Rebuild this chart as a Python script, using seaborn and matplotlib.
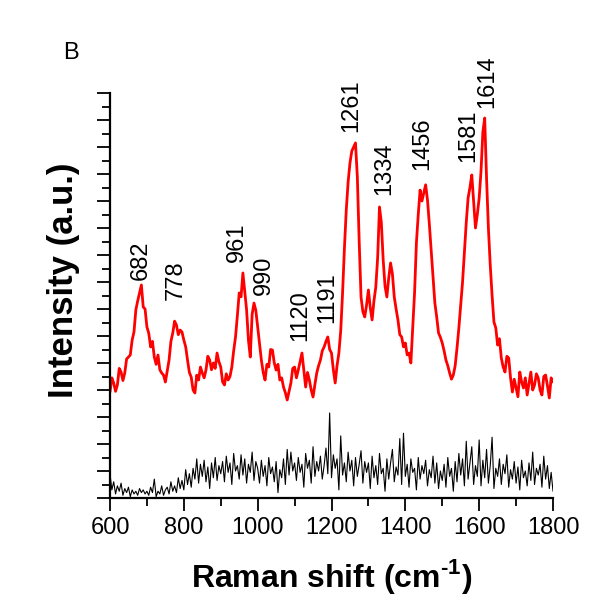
import matplotlib
matplotlib.use("Agg")
import matplotlib.pyplot as plt
import seaborn as sns
import pandas as pd
from matplotlib.ticker import MultipleLocator, NullFormatter

sns.set_style("ticks")
plt.rcParams["font.family"] = ["Liberation Sans", "DejaVu Sans"]
plt.rcParams["mathtext.fontset"] = "custom"
plt.rcParams["mathtext.rm"] = "Liberation Sans:bold"
plt.rcParams["mathtext.bf"] = "Liberation Sans:bold"
for key in ["text.color", "axes.labelcolor", "xtick.color", "ytick.color", "axes.edgecolor"]:
    plt.rcParams[key] = "black"

# ---- data ----
red_shift = list(range(600, 1801, 5))
red_intensity = [
    7.85, 8.9, 8.52, 7.9, 8.37, 9.6, 9.33, 8.7, 9.26, 10.3, 10.44, 10.6, 11.70, 12.3, 13.93, 14.6, 15.19, 15.78, 14.15, 14.0,
    12.67, 12.2, 11.19, 11.6, 10.44, 9.9, 10.59, 9.5, 9.26, 9.1, 8.59, 9.4, 10.22, 11.6, 12.22, 13.1, 12.81, 12.1, 12.44, 12.3,
    11.70, 11.2, 10.22, 9.3, 8.96, 8.0, 7.78, 9.1, 8.74, 9.7, 9.26, 8.9, 9.48, 10.5, 10.22, 9.5, 10.0, 9.6, 10.74, 10.1,
    9.70, 8.6, 8.37, 9.2, 8.74, 9.0, 9.70, 10.9, 11.93, 13.5, 15.19, 14.9, 16.67, 15.3, 13.93, 11.7, 10.44, 13.6, 14.44, 13.9,
    12.67, 11.4, 10.22, 9.3, 8.74, 9.9, 9.70, 11.0, 10.96, 10.0, 9.48, 9.9, 8.74, 8.9, 8.22, 7.8, 7.26, 7.9, 8.52, 9.6,
    9.70, 8.9, 9.48, 10.1, 10.74, 9.5, 8.22, 9.3, 8.74, 8.0, 7.48, 8.4, 9.26, 9.8, 10.22, 10.9, 11.19, 11.6, 11.93, 11.0,
    10.74, 9.5, 8.52, 9.8, 10.74, 12.4, 15.19, 18.5, 21.33, 23.4, 24.81, 25.7, 26.0, 26.3, 23.78, 19.0, 14.89, 13.8, 13.41, 14.3,
    15.41, 14.1, 13.19, 14.6, 15.63, 17.8, 21.56, 20.4, 17.63, 15.7, 14.89, 16.3, 17.41, 16.6, 14.89, 14.0, 13.19, 12.1, 11.93, 11.2,
    11.48, 10.6, 10.74, 10.0, 12.67, 15.2, 18.89, 21.0, 22.81, 22.0, 22.59, 23.2, 22.07, 20.3, 18.37, 16.5, 14.44, 13.4, 12.22, 11.9,
    11.48, 10.9, 10.22, 9.8, 9.26, 8.8, 9.11, 9.8, 11.11, 12.6, 14.30, 16.0, 18.22, 20.4, 22.22, 23.0, 23.93, 22.0, 20.0, 21.0,
    22.22, 24.2, 27.11, 28.15, 23.70, 20.0, 17.26, 15.0, 13.04, 12.6, 11.33, 11.8, 10.37, 9.7, 9.33, 10.5, 10.37, 8.9, 7.85, 8.8,
    8.15, 7.5, 9.33, 8.6, 8.15, 8.9, 7.63, 8.5, 9.33, 8.0, 8.37, 9.2, 8.89, 8.0, 7.63, 9.0, 9.11, 8.3, 7.41, 8.9,
    8.59]

black_shift = list(range(600, 1801, 5))
black_intensity = [
    1.8, 0.6, 1.2, 0.3, 0.9, 0.5, 1.1, 0.2, 0.7, 0.4, 0.8, 0.1, 0.6, 0.3, 0.5, 0.2, 0.7, 0.4, 0.6, 0.3,
    0.5, 0.2, 0.8, 0.4, 1.4, 0.1, 0.5, 0.3, 0.9, 0.2, 0.6, 0.8, 0.3, 1.2, 0.5, 0.9, 0.4, 1.5, 0.7, 1.3,
    0.6, 2.1, 1.0, 1.8, 0.8, 2.2, 1.4, 2.9, 1.1, 2.5, 1.6, 2.8, 1.2, 2.3, 0.7, 2.6, 1.5, 3.0, 1.3, 2.4,
    1.8, 2.7, 1.2, 3.1, 1.9, 2.6, 1.0, 3.3, 2.0, 2.4, 1.4, 3.2, 1.7, 2.9, 1.1, 2.5, 1.9, 3.4, 1.3, 2.7,
    2.2, 1.1, 2.8, 1.6, 2.4, 0.9, 3.0, 1.8, 2.3, 1.2, 2.7, 0.4, 2.1, 1.5, 2.9, 1.0, 3.6, 1.7, 3.4, 2.0,
    2.6, 1.3, 3.0, 1.9, 2.5, 0.8, 3.3, 2.2, 2.8, 1.1, 3.8, 1.6, 2.7, 2.0, 3.1, 1.4, 2.4, 3.7, 1.8, 6.3,
    1.5, 3.2, 2.2, 2.9, 0.6, 4.6, 1.7, 2.6, 1.2, 3.4, 2.0, 2.8, 0.9, 3.0, 1.6, 2.5, 3.5, 1.1, 2.7, 1.9,
    2.6, 0.7, 3.1, 1.5, 2.4, 1.0, 3.3, 1.8, 2.2, 0.5, 2.9, 1.4, 2.6, 3.6, 1.2, 2.3, 1.7, 4.4, 1.0, 4.8,
    1.6, 2.5, 0.8, 2.9, 1.9, 2.2, 0.6, 3.0, 1.4, 2.4, 1.8, 2.8, 0.9, 2.1, 1.5, 3.1, 1.1, 2.6, 0.7, 2.0,
    1.3, 2.5, 0.8, 3.0, 1.6, 2.2, 0.5, 2.7, 1.2, 3.3, 1.7, 2.9, 0.9, 4.2, 1.4, 2.6, 3.8, 1.0, 2.4, 1.6,
    4.3, 0.9, 2.8, 1.5, 3.6, 1.1, 2.4, 4.5, 0.7, 2.2, 1.6, 2.9, 1.0, 2.5, 1.8, 3.2, 0.8, 2.1, 1.4, 2.7,
    1.1, 2.3, 0.6, 2.8, 1.5, 2.0, 0.9, 2.6, 1.3, 3.4, 1.0, 2.2, 1.7, 2.5, 0.8, 3.1, 1.4, 2.4, 0.7, 1.9,
    0.5]

peak_labels = ["682", "778", "961", "990", "1120", "1191", "1261", "1334", "1456", "1581", "1614"]
label_x = [684, 779, 944, 1017, 1115, 1188, 1253, 1342, 1445, 1570, 1621]
label_y = [16.15, 14.67, 17.48, 15.04, 11.63, 12.96, 27.1, 22.44, 24.3, 24.9, 28.9]

x_ticks = [600, 800, 1000, 1200, 1400, 1600, 1800]

red_df = pd.DataFrame({"shift": red_shift, "intensity": red_intensity})
black_df = pd.DataFrame({"shift": black_shift, "intensity": black_intensity})

# ---- figure ----
fig = plt.figure(figsize=(6.07, 6.11), dpi=100)
ax = fig.add_axes([110 / 607, 1 - 498 / 611, 443 / 607, 405 / 611])

sns.lineplot(data=black_df, x="shift", y="intensity", ax=ax, color="black",
             linewidth=0.8, estimator=None, sort=False)
sns.lineplot(data=red_df, x="shift", y="intensity", ax=ax, color="#ff0000",
             linewidth=2.0, estimator=None, sort=False)

for txt, lx, ly in zip(peak_labels, label_x, label_y):
    ax.text(lx, ly, txt, rotation=90, ha="center", va="bottom", fontsize=17, color="black")

ax.set_xlim(600, 1800)
ax.set_ylim(0, 30)
ax.set_xticks(x_ticks)
ax.set_xticklabels([str(t) for t in x_ticks], fontsize=17)
ax.xaxis.set_minor_locator(MultipleLocator(100))
ax.yaxis.set_major_locator(MultipleLocator(2))
ax.yaxis.set_minor_locator(MultipleLocator(1))
ax.yaxis.set_major_formatter(NullFormatter())

for side in ["top", "right"]:
    ax.spines[side].set_visible(False)
for side in ["left", "bottom"]:
    ax.spines[side].set_linewidth(1.6)
    ax.spines[side].set_color("black")

ax.tick_params(axis="both", which="major", direction="out", length=9.5, width=1.3,
               color="black", pad=4)
ax.tick_params(axis="both", which="minor", direction="out", length=5.5, width=1.3,
               color="black")

ax.set_xlabel(r"Raman shift (cm$^{\text{-1}}$)", fontsize=23, fontweight="bold")
ax.set_ylabel("Intensity (a.u.)", fontsize=25, fontweight="bold")
ax.xaxis.set_label_coords(0.5, -0.145)
ax.yaxis.set_label_coords(-0.068, 0.538)

fig.text(63 / 607, 1 - 59 / 611, "B", fontsize=17, ha="left", va="baseline")

fig.savefig("out.png", dpi=100)
